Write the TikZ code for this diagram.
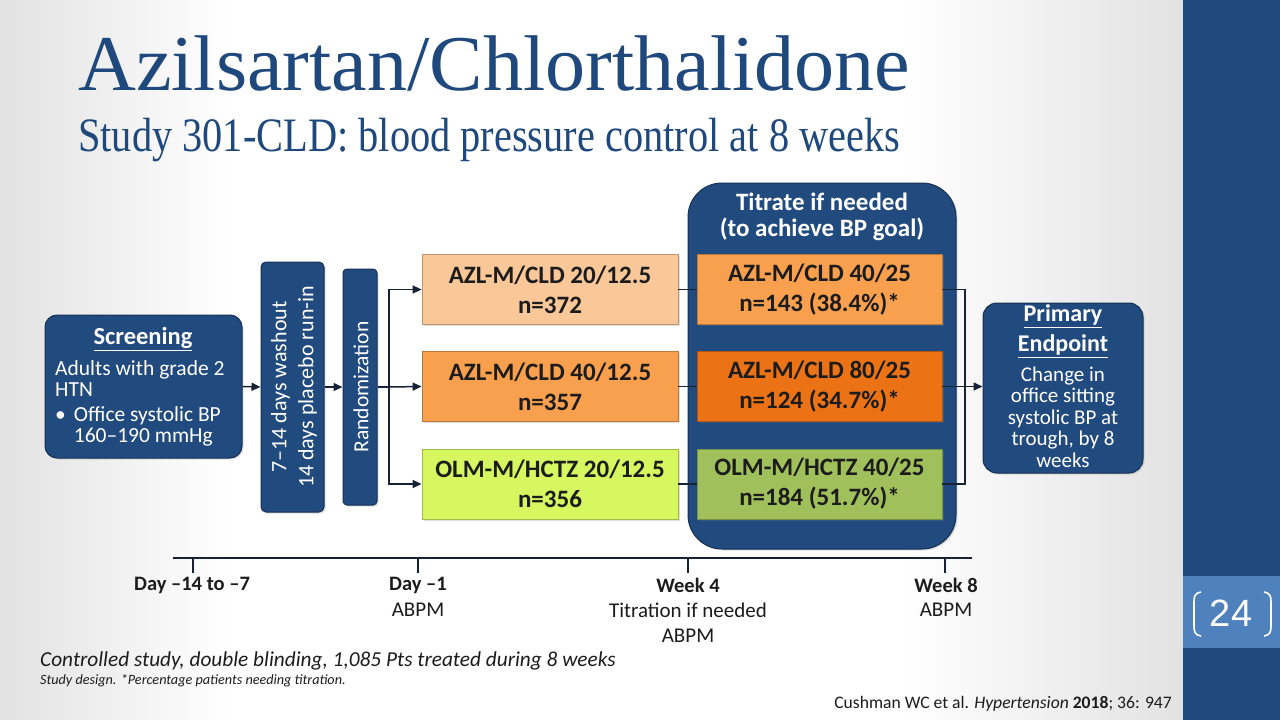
\documentclass[tikz,border=0pt]{standalone}
\usepackage{fontspec}
\setmainfont{Carlito}
\newfontfamily\titlefont{Liberation Serif}
\newfontfamily\numfont{Liberation Sans}
\usetikzlibrary{arrows.meta,shadows}
\definecolor{navy}{RGB}{33,74,126}
\definecolor{navyline}{RGB}{22,48,84}
\definecolor{titleblue}{RGB}{31,73,125}
\definecolor{pagebox}{RGB}{79,129,189}
\definecolor{peach}{RGB}{250,199,152}
\definecolor{orangeA}{RGB}{249,160,78}
\definecolor{orangeB}{RGB}{236,114,22}
\definecolor{limeA}{RGB}{214,247,96}
\definecolor{oliveA}{RGB}{160,192,92}
\definecolor{txt}{RGB}{28,28,28}
\definecolor{connc}{RGB}{24,34,54}
\definecolor{bggray}{RGB}{226,226,226}
\tikzset{
  navybox/.style={draw=navyline, line width=1pt, fill=navy, inner sep=0pt,
    drop shadow={opacity=0.25, shadow xshift=1.5pt, shadow yshift=-1.5pt}},
  drugbox/.style={draw=#1!75!black, line width=0.8pt, fill=#1, inner sep=0pt,
    minimum height=70pt, align=center, text=txt,
    font=\bfseries\fontsize{25}{30}\selectfont,
    drop shadow={opacity=0.25, shadow xshift=1.5pt, shadow yshift=-1.5pt}},
  leftbox/.style={drugbox=#1, minimum width=256pt},
  midbox/.style={drugbox=#1, minimum width=245pt},
  conn/.style={draw=connc, line width=1.5pt},
  arr/.style={conn, -{Triangle[length=9pt,width=8pt]}},
  wtext/.style={text=white, inner sep=0pt, align=center},
  tllabel/.style={inner sep=0pt, text=txt, align=center},
}
\begin{document}
\begin{tikzpicture}[x=1pt,y=-1pt]
\useasboundingbox (0,0) rectangle (1280,720);
% background
\fill[white] (0,0) rectangle (1183,720);
\shade[left color=bggray, right color=white] (0,0) rectangle (230,720);
\shade[left color=white, right color=bggray] (900,0) rectangle (1183,720);
\fill[titleblue] (1183,0) rectangle (1280,720);
\fill[pagebox] (1183,576) rectangle (1280,648);
\draw[white, line width=1.6pt] (1201,592) .. controls (1195,593) and (1194,596) .. (1194,602) -- (1194,626) .. controls (1194,632) and (1195,635) .. (1201,636);
\draw[white, line width=1.6pt] (1264,592) .. controls (1270,593) and (1271,596) .. (1271,602) -- (1271,626) .. controls (1271,632) and (1270,635) .. (1264,636);
\node[text=white, inner sep=0pt] (pagenum) at (1231,613) {\numfont\fontsize{38}{40}\selectfont 24};

% titles
\node[anchor=base west, inner sep=0pt, text=titleblue] (title) at (78,90)
  {\titlefont\fontsize{79}{80}\selectfont\resizebox{832pt}{\height}{Azilsartan/Chlorthalidone}};
\node[anchor=base west, inner sep=0pt, text=titleblue] (subtitle) at (78,151)
  {\titlefont\fontsize{48}{50}\selectfont\resizebox{822pt}{\height}{Study 301-CLD: blood pressure control at 8 weeks}};

% titrate container
\node[navybox, rounded corners=34pt, minimum width=268pt, minimum height=366pt] (titrate) at (822,366) {};
\node[wtext, font=\bfseries\fontsize{25}{26}\selectfont] (titratetxt) at (822,217) {Titrate if needed\\(to achieve BP goal)};

% screening
\node[navybox, rounded corners=12pt, minimum width=197pt, minimum height=143pt] (screen) at (143.5,386.5) {};
\node[wtext, font=\bfseries\fontsize{24.5}{26}\selectfont] (screentitle) at (143,339) {\underline{Screening}};
\node[wtext, anchor=west, align=left, font=\fontsize{21.5}{21}\selectfont] (screenA) at (55,378.5) {Adults with grade 2\\HTN};
\node[wtext, anchor=west, align=left, font=\fontsize{21.5}{21}\selectfont] (screenB) at (55,427.5)
  {\begin{tabular}{@{}l@{\hspace{8pt}}l@{}}\textbullet & Office systolic BP\\ & 160–190 mmHg\end{tabular}};

% washout
\node[navybox, rounded corners=5pt, minimum width=63pt, minimum height=250pt] (wash) at (292.5,387) {};
\node[wtext, rotate=90, font=\fontsize{22}{27}\selectfont] (washtxt) at (294,387) {7–14 days washout\\14 days placebo run-in};

% randomization
\node[navybox, rounded corners=4pt, minimum width=34pt, minimum height=236pt] (rand) at (360,387) {};
\node[wtext, rotate=90, font=\fontsize{21.5}{24}\selectfont] (randtxt) at (361,387) {Randomization};

% drug boxes
\node[leftbox=peach] (L1) at (550,289.5) {AZL-M/CLD 20/12.5\\n=372};
\node[leftbox=orangeA] (L2) at (550,386.5) {AZL-M/CLD 40/12.5\\n=357};
\node[leftbox=limeA] (L3) at (550,484) {OLM-M/HCTZ 20/12.5\\n=356};
\node[midbox=orangeA] (M1) at (819.5,289.5) {AZL-M/CLD 40/25\\n=143 (38.4\%)*};
\node[midbox=orangeB] (M2) at (819.5,386.5) {AZL-M/CLD 80/25\\n=124 (34.7\%)*};
\node[midbox=oliveA] (M3) at (819.5,484) {OLM-M/HCTZ 40/25\\n=184 (51.7\%)*};

% primary endpoint
\node[navybox, rounded corners=14pt, minimum width=160pt, minimum height=170pt] (pe) at (1063,388) {};
\node[wtext, font=\bfseries\fontsize{24}{30}\selectfont] (petitle) at (1063,331) {\underline{Primary}\\\underline{Endpoint}};
\node[wtext, font=\fontsize{21}{21.5}\selectfont] (petxt) at (1063,417) {Change in\\office sitting\\systolic BP at\\trough, by 8\\weeks};

% connectors
\draw[arr] (screen.east) -- (wash.west);
\draw[arr] (wash.east) -- (rand.west);
\coordinate (split) at (389,387);
\draw[conn] (rand.east) -- (split);
\draw[arr] (split) |- (L1.west);
\draw[arr] (split) -- (L2.west);
\draw[arr] (split) |- (L3.west);
\draw[conn] (L1.east) -- (M1.west);
\draw[conn] (L2.east) -- (M2.west);
\draw[conn] (L3.east) -- (M3.west);
\coordinate (join) at (965,386.5);
\draw[conn] (M1.east) -| (join);
\draw[conn] (M3.east) -| (join);
\draw[arr] (M2.east) -- (pe.west |- M2.east);

% timeline
\coordinate (tlA) at (173,558);
\coordinate (tlB) at (972,558);
\draw[conn, line width=1.7pt] (tlA) -- (tlB);
\foreach \n/\x in {t1/193,t2/418,t3/688,t4/945}{
  \coordinate (\n) at (\x,558);
  \draw[conn] (\n) -- ++(0,15);
}
\node[tllabel, font=\bfseries\fontsize{20.5}{25}\selectfont] (lab1) at (192,585) {Day –14 to –7};
\node[tllabel, font=\bfseries\fontsize{20.5}{25}\selectfont] (lab2) at (418,585) {Day –1};
\node[tllabel, font=\fontsize{21}{25}\selectfont] (lab2b) at (418,610) {ABPM};
\node[tllabel, font=\bfseries\fontsize{20.5}{25}\selectfont] (lab3) at (688,585) {Week 4};
\node[tllabel, font=\fontsize{21}{25}\selectfont] (lab3b) at (688,622.5) {Titration if needed\\ABPM};
\node[tllabel, font=\bfseries\fontsize{20.5}{25}\selectfont] (lab4) at (946,585) {Week 8};
\node[tllabel, font=\fontsize{21}{25}\selectfont] (lab4b) at (946,610) {ABPM};

% footer
\node[tllabel, anchor=west, font=\itshape\fontsize{21.3}{23}\selectfont] (foot1) at (40,661) {Controlled study, double blinding, 1,085 Pts treated during 8 weeks};
\node[tllabel, anchor=west, font=\itshape\fontsize{14.2}{16}\selectfont] (foot2) at (40,681) {Study design. *Percentage patients needing titration.};
\node[tllabel, anchor=east, font=\fontsize{17.6}{19}\selectfont] (cite) at (1172,704) {Cushman WC et al. \textit{Hypertension} \textbf{2018}; 36: 947};
\end{tikzpicture}
\end{document}
